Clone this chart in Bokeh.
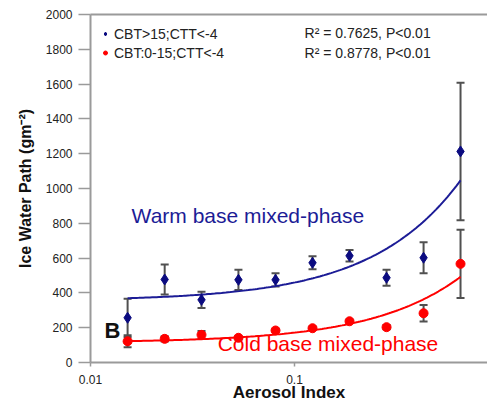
import numpy as np
from bokeh.plotting import figure
from bokeh.models import (ColumnDataSource, Whisker, TeeHead, FixedTicker, CustomJSTickFormatter,
                          Label, Legend, LegendItem, LinearAxis, Range1d)
from bokeh.embed import file_html
from bokeh.resources import INLINE

# ---- data ----
aerosol_index = [0.0152, 0.0231, 0.035, 0.0531, 0.0807, 0.1225, 0.186, 0.2825, 0.429, 0.651]
warm_iwp = [257, 477, 360, 475, 475, 573, 613, 487, 602, 1213]
warm_err = [110, 86, 47, 58, 38, 37, 33, 46, 89, 395]
cold_iwp = [122, 136, 159, 142, 184, 197, 237, 203, 283, 567]
cold_err = [35, 15, 22, 8, 8, 8, 8, 12, 47, 196]
warm_label = "CBT>15;CTT<-4"
cold_label = "CBT:0-15;CTT<-4"
warm_stats = "R\u00b2 = 0.7625, P<0.01"
cold_stats = "R\u00b2 = 0.8778, P<0.01"
y_ticks = list(range(0, 2001, 200))
x_ticks = [0.01, 0.1]

FONT = "Liberation Sans"
NAVY = "#0b0b80"
BLUE_LINE = "#1c1c96"
RED = "#ff0000"
AXIS_GRAY = "#9a9a9a"
ERR_GRAY = "#505050"

p = figure(width=487, height=404, x_axis_type="log",
           x_range=Range1d(0.01, 0.8826), y_range=Range1d(0, 2000),
           output_backend="svg", toolbar_location=None,
           min_border_left=90, min_border_right=0, min_border_top=14, min_border_bottom=42)
p.outline_line_color = None
p.xgrid.visible = False
p.ygrid.visible = False
p.background_fill_color = "white"
p.border_fill_color = "white"

# x axis (below)
xa = p.below[0]
xa.ticker = FixedTicker(ticks=x_ticks, minor_ticks=[])
xa.formatter = CustomJSTickFormatter(code="return String(Math.round(tick*1000)/1000);")
xa.axis_line_color = AXIS_GRAY
xa.axis_line_width = 2
xa.major_tick_line_color = AXIS_GRAY
xa.major_tick_line_width = 1.5
xa.major_tick_out = 4
xa.major_tick_in = 0
xa.minor_tick_line_color = None
xa.major_label_text_font = FONT
xa.major_label_text_font_size = "12px"
xa.major_label_text_color = "#222222"
xa.major_label_standoff = 8
xa.axis_label = "Aerosol Index"
xa.axis_label_text_font = FONT
xa.axis_label_text_font_style = "bold"
xa.axis_label_text_font_size = "17px"
xa.axis_label_text_color = "#111111"
xa.axis_label_standoff = -4

# top frame line
top_axis = LinearAxis(ticker=FixedTicker(ticks=[], minor_ticks=[]), axis_line_color=AXIS_GRAY,
                      axis_line_width=2, major_tick_line_color=None, minor_tick_line_color=None,
                      major_label_text_color=None, major_label_text_font_size="1px",
                      major_label_standoff=0)
p.add_layout(top_axis, "above")

# y axis
ya = p.left[0]
ya.ticker = FixedTicker(ticks=y_ticks)
ya.axis_line_color = AXIS_GRAY
ya.axis_line_width = 2
ya.major_tick_line_color = AXIS_GRAY
ya.major_tick_line_width = 1.5
ya.major_tick_out = 12
ya.major_tick_in = 0
ya.minor_tick_line_color = None
ya.major_label_text_font = FONT
ya.major_label_text_font_size = "12px"
ya.major_label_text_color = "#222222"
ya.major_label_standoff = 6
ya.axis_label = "Ice Water Path (gm\u207b\u00b2)"
ya.axis_label_text_font = FONT
ya.axis_label_text_font_style = "bold"
ya.axis_label_text_font_size = "16px"
ya.axis_label_text_color = "#111111"
ya.axis_label_standoff = 9

x = np.array(aerosol_index)
wy = np.array(warm_iwp, dtype=float)
we = np.array(warm_err, dtype=float)
cy = np.array(cold_iwp, dtype=float)
ce = np.array(cold_err, dtype=float)

# error bars
for yv, ev in ((wy, we), (cy, ce)):
    src = ColumnDataSource(dict(x=x, upper=yv + ev, lower=yv - ev))
    w = Whisker(base="x", upper="upper", lower="lower", source=src,
                line_color=ERR_GRAY, line_width=2, level="underlay",
                upper_head=TeeHead(size=8, line_color=ERR_GRAY, line_width=2),
                lower_head=TeeHead(size=8, line_color=ERR_GRAY, line_width=2))
    p.add_layout(w)

# linear trend lines (least squares on the data)
xs = np.geomspace(x.min(), x.max(), 150)
wb, wa = np.polyfit(x, wy, 1)
cb, ca = np.polyfit(x, cy, 1)
p.line(xs, wa + wb * xs, line_color=BLUE_LINE, line_width=2)
p.line(xs, ca + cb * xs, line_color=RED, line_width=2)

r_warm = p.scatter(x, wy, marker="diamond", size=11, fill_color=NAVY, line_color=NAVY)
r_cold = p.scatter(x, cy, marker="circle", size=9, fill_color=RED, line_color=RED)

legend = Legend(items=[LegendItem(label=warm_label, renderers=[r_warm]),
                       LegendItem(label=cold_label, renderers=[r_cold])],
                location="top_left", border_line_color=None, background_fill_alpha=0,
                margin=10, padding=0, glyph_width=10, glyph_height=19, label_standoff=4,
                spacing=0, label_text_font=FONT, label_text_font_size="14px",
                label_text_color="#222222", label_height=19)
p.add_layout(legend)

for yy, txt in ((1895, warm_stats), (1780, cold_stats)):
    p.add_layout(Label(x=0.112, y=yy, text=txt, text_font=FONT, text_font_size="14px",
                       text_color="#222222", text_baseline="middle"))

p.add_layout(Label(x=0.0159, y=845, text="Warm base mixed-phase", text_font=FONT,
                   text_font_size="21px", text_color=BLUE_LINE, text_baseline="middle"))
p.add_layout(Label(x=0.0420, y=109, text="Cold base mixed-phase", text_font=FONT,
                   text_font_size="21px", text_color=RED, text_baseline="middle"))
p.add_layout(Label(x=0.0128, y=184, text="B", text_font=FONT, text_font_size="22px",
                   text_font_style="bold", text_color="#111111",
                   text_align="center", text_baseline="middle"))

open("out.html", "w").write(file_html(p, INLINE))
